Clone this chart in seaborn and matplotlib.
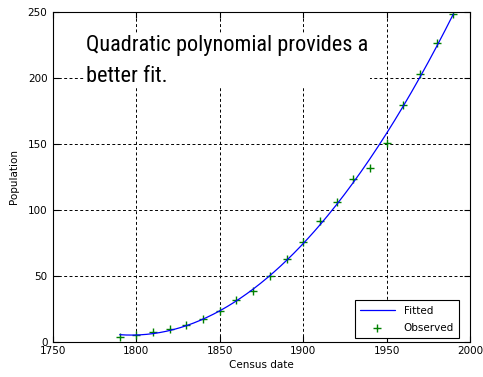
import numpy as np
import pandas as pd
import matplotlib
matplotlib.use("Agg")
import matplotlib.pyplot as plt
from matplotlib import font_manager
import seaborn as sns

# US census population (millions), 1790-1990
years = [1790, 1800, 1810, 1820, 1830, 1840, 1850, 1860, 1870, 1880, 1890,
         1900, 1910, 1920, 1930, 1940, 1950, 1960, 1970, 1980, 1990]
population = [3.929, 5.308, 7.240, 9.638, 12.866, 17.069, 23.192, 31.443,
              38.558, 50.156, 62.948, 75.995, 91.972, 105.711, 123.203,
              131.669, 150.697, 179.323, 203.212, 226.505, 248.710]
x_ticks = [1750, 1800, 1850, 1900, 1950, 2000]
y_ticks = [0, 50, 100, 150, 200, 250]

# quadratic least-squares fit to the observed data
coef = np.polyfit(years, population, 2)
fit_years = np.linspace(years[0], years[-1], 200)
fit_vals = np.polyval(coef, fit_years)

obs = pd.DataFrame({"year": years, "pop": population})
fit = pd.DataFrame({"year": fit_years, "pop": fit_vals})

sns.set_style("white")
plt.rcParams["font.family"] = ["DejaVu Sans"]
plt.rcParams["text.color"] = "black"
plt.rcParams["axes.labelcolor"] = "black"
plt.rcParams["xtick.color"] = "black"
plt.rcParams["ytick.color"] = "black"

# narrow face for the annotation
narrow = "DejaVu Sans"
for cand in ["Roboto Condensed", "Liberation Sans Narrow", "Open Sans Condensed"]:
    try:
        font_manager.findfont(cand, fallback_to_default=False)
        narrow = cand
        break
    except Exception:
        pass

fig = plt.figure(figsize=(4.83, 3.77), dpi=100)
ax = fig.add_axes([53 / 483, 1 - 342 / 377, (470 - 53) / 483, (342 - 12) / 377])

sns.lineplot(data=fit, x="year", y="pop", ax=ax, color="#0000ff",
             linewidth=0.9, label="Fitted")
sns.scatterplot(data=obs, x="year", y="pop", ax=ax, marker="+", s=40,
                color="#008000", linewidth=1.0, label="Observed")

ax.set_xlim(1750, 2000)
ax.set_ylim(0, 250)
ax.set_xticks(x_ticks)
ax.set_yticks(y_ticks)
ax.tick_params(direction="in", length=4, labelsize=7.5,
               top=True, right=True, bottom=True, left=True)
ax.tick_params(axis="x", pad=3)
ax.tick_params(axis="y", pad=4)
ax.grid(True, color="black", linestyle=(0, (3, 2.5)), linewidth=0.7)
for s in ax.spines.values():
    s.set_color("black")
    s.set_linewidth(0.8)

ax.set_xlabel("Census date", fontsize=7.5, labelpad=3)
ax.set_ylabel("Population", fontsize=7.5, labelpad=6)

leg = ax.legend(loc="lower right", bbox_to_anchor=(0.9736, 0.012),
                fontsize=7.5, frameon=True, fancybox=False,
                edgecolor="black", framealpha=1, borderaxespad=0,
                handlelength=3.4, labelspacing=0.7, borderpad=0.5)
leg.get_frame().set_linewidth(0.8)

ax.text(1770, 232.5, "Quadratic polynomial provides a\nbetter fit.",
        fontsize=16, family=narrow, va="top", ha="left",
        linespacing=1.6,
        bbox=dict(facecolor="white", edgecolor="none", pad=1))

fig.savefig("out.png", dpi=100)
